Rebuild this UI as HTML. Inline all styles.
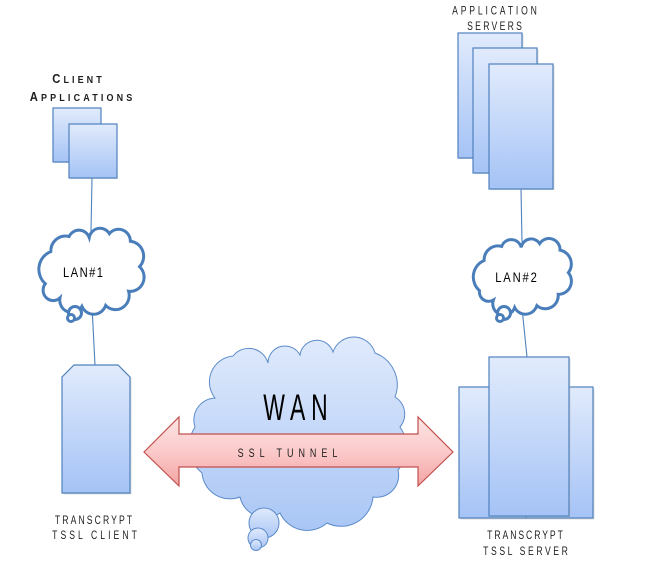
<!DOCTYPE html>
<html><head><meta charset="utf-8"><style>
html,body{margin:0;padding:0;background:#fff;}
svg{display:block;}
text{font-family:"Liberation Sans",sans-serif;fill:#1e1e1e;}
</style></head><body>
<svg width="648" height="579" viewBox="0 0 648 579" xmlns="http://www.w3.org/2000/svg">
<defs>
<linearGradient id="bg" x1="0" y1="0" x2="0" y2="1"><stop offset="0" stop-color="#e1ebfc"/><stop offset="1" stop-color="#a5c3f6"/></linearGradient>
<linearGradient id="cg" x1="0" y1="0" x2="0" y2="1"><stop offset="0" stop-color="#e0eafc"/><stop offset="1" stop-color="#a9c6f5"/></linearGradient>
<linearGradient id="rg" x1="0" y1="0" x2="0" y2="1"><stop offset="0" stop-color="#fde4e4"/><stop offset="0.5" stop-color="#fbcaca"/><stop offset="1" stop-color="#f4a3a3"/></linearGradient>
</defs>

<!-- connector lines -->
<g stroke="#4f81bd" stroke-width="1.1" fill="none">
<line x1="92" y1="178" x2="91" y2="232"/>
<line x1="92" y1="306" x2="95" y2="365"/>
<line x1="521" y1="189" x2="522" y2="242"/>
<line x1="522" y1="308" x2="527" y2="357"/>
</g>

<!-- Client applications -->
<g stroke="#4f81bd" stroke-width="1.2" fill="url(#bg)">
<rect x="54.5" y="109" width="47" height="54" fill="#bbb" stroke="none" opacity="0.5"/>
<rect x="53" y="108" width="48" height="54"/>
<rect x="70.5" y="125" width="47" height="54" fill="#bbb" stroke="none" opacity="0.5"/>
<rect x="69" y="124" width="48" height="54"/>
</g>

<!-- Application servers -->
<g stroke="#4f81bd" stroke-width="1.2" fill="url(#bg)">
<rect x="459.5" y="34" width="64" height="125" fill="#bbb" stroke="none" opacity="0.5"/>
<rect x="458" y="33" width="64" height="125"/>
<rect x="474.5" y="49" width="64" height="125" fill="#bbb" stroke="none" opacity="0.5"/>
<rect x="473" y="48" width="64" height="125"/>
<rect x="490.5" y="65" width="64" height="125" fill="#bbb" stroke="none" opacity="0.5"/>
<rect x="489" y="64" width="64" height="125"/>
</g>

<!-- LAN clouds -->
<g stroke="#4a7ebb" stroke-width="3" fill="#fff">
<path vector-effect="non-scaling-stroke" transform="translate(38,228) scale(0.915,0.944) translate(-34,-224)" d="M42,283 A20,20 0 0 1 48,249 A16,16 0 0 1 68,233 A12,12 0 0 1 90,234 A12,12 0 0 1 112,230 A13,13 0 0 1 135,238 A16,16 0 0 1 145,265 A15,15 0 0 1 133,291 A15,15 0 0 1 108,306 A14,14 0 0 1 82,307 A13,13 0 0 1 58,298 A11,11 0 0 1 42,283 Z"/>
<circle cx="75" cy="313" r="6.5"/>
<circle cx="71" cy="318" r="3.5"/>
</g>
<g stroke="#4a7ebb" stroke-width="3" fill="#fff">
<g transform="translate(473,237) scale(0.926,0.94) translate(-470,-237)">
<path vector-effect="non-scaling-stroke" d="M477,300 A19,19 0 0 1 482,268 A15,15 0 0 1 501,253 A11,11 0 0 1 522,254 A11,11 0 0 1 542,250 A12,12 0 0 1 564,257 A15,15 0 0 1 573,281 A14,14 0 0 1 562,304 A14,14 0 0 1 539,316 A13,13 0 0 1 515,318 A12,12 0 0 1 492,310 A10,10 0 0 1 477,300 Z" transform="translate(0,-6)"/>
</g>
<circle cx="504" cy="313" r="6.5"/>
<circle cx="500" cy="318" r="3.5"/>
</g>

<!-- Client box -->
<polygon points="75.5,366 119.5,366 131.5,378 131.5,494.5 63.5,494.5 63.5,378" fill="#bbb" opacity="0.5"/>
<polygon points="74,365 118,365 130,377 130,493 62,493 62,377" fill="url(#bg)" stroke="#4f81bd" stroke-width="1.2"/>

<!-- Server boxes -->
<g stroke="#4f81bd" stroke-width="1.2" fill="url(#bg)">
<rect x="460.5" y="388.5" width="134" height="131" fill="#bbb" stroke="none" opacity="0.5"/>
<rect x="459" y="387" width="67" height="131"/>
<rect x="526" y="387" width="67" height="131"/>
<rect x="490.5" y="358.5" width="80" height="159" fill="#bbb" stroke="none" opacity="0.5"/>
<rect x="489" y="357" width="80" height="159"/>
</g>

<!-- WAN cloud -->
<g stroke="#5b8bc9" stroke-width="1" fill="url(#cg)">
<path d="M195,427 A22,22 0 0 1 215,398 A26,26 0 0 1 233,356 A20,20 0 0 1 268,363 A17,17 0 0 1 300,355 A17,17 0 0 1 333,352 A22,22 0 0 1 375,353 A34,34 0 0 1 395,397 A20,20 0 0 1 400,427 A35,35 0 0 1 398,470 A22,22 0 0 1 373,497 A32,32 0 0 1 327,523 A30,30 0 0 1 280,513 A26,26 0 0 1 240,497 A28,28 0 0 1 202,473 A35,35 0 0 1 195,427 Z"/>
<circle cx="264" cy="523" r="15"/>
<circle cx="258" cy="538" r="10"/>
<circle cx="256" cy="545" r="5.5"/>
</g>
<text transform="translate(295.5,420) scale(0.62,1)" text-anchor="middle" font-size="37" textLength="104" lengthAdjust="spacing" style="fill:#000">WAN</text>

<!-- SSL tunnel arrow -->
<polygon points="144,452 179,417 179,434 418,434 418,417 453,452 418,486 418,467 179,467 179,486" fill="url(#rg)" stroke="#c0504d" stroke-width="1.2"/>
<text transform="translate(287.5,457) scale(0.75,1)" text-anchor="middle" font-size="12" textLength="133" lengthAdjust="spacing">SSL TUNNEL</text>

<!-- LAN labels -->
<text transform="translate(83,277) scale(0.8,1)" text-anchor="middle" font-size="14" textLength="50" lengthAdjust="spacing" style="fill:#000">LAN#1</text>
<text transform="translate(516,282) scale(0.8,1)" text-anchor="middle" font-size="14" textLength="52" lengthAdjust="spacing" style="fill:#000">LAN#2</text>

<!-- Labels -->
<text transform="translate(77,83) scale(0.9,1)" text-anchor="middle" textLength="55" lengthAdjust="spacing" font-weight="bold"><tspan font-size="12.5">C</tspan><tspan font-size="10">LIENT</tspan></text>
<text transform="translate(81,101) scale(0.9,1)" text-anchor="middle" textLength="114" lengthAdjust="spacing" font-weight="bold"><tspan font-size="12.5">A</tspan><tspan font-size="10">PPLICATIONS</tspan></text>

<text transform="translate(494.5,14.5) scale(0.75,1)" text-anchor="middle" font-size="11.5" textLength="113" lengthAdjust="spacing">APPLICATION</text>
<text transform="translate(494.5,30) scale(0.75,1)" text-anchor="middle" font-size="11.5" textLength="73" lengthAdjust="spacing">SERVERS</text>

<text transform="translate(93.5,524) scale(0.75,1)" text-anchor="middle" font-size="11.5" textLength="103" lengthAdjust="spacing">TRANSCRYPT</text>
<text transform="translate(94.5,539) scale(0.75,1)" text-anchor="middle" font-size="11.5" textLength="113" lengthAdjust="spacing">TSSL CLIENT</text>

<text transform="translate(525,539) scale(0.75,1)" text-anchor="middle" font-size="11.5" textLength="101" lengthAdjust="spacing">TRANSCRYPT</text>
<text transform="translate(525.5,555) scale(0.75,1)" text-anchor="middle" font-size="11.5" textLength="113" lengthAdjust="spacing">TSSL SERVER</text>
</svg>
</body></html>
